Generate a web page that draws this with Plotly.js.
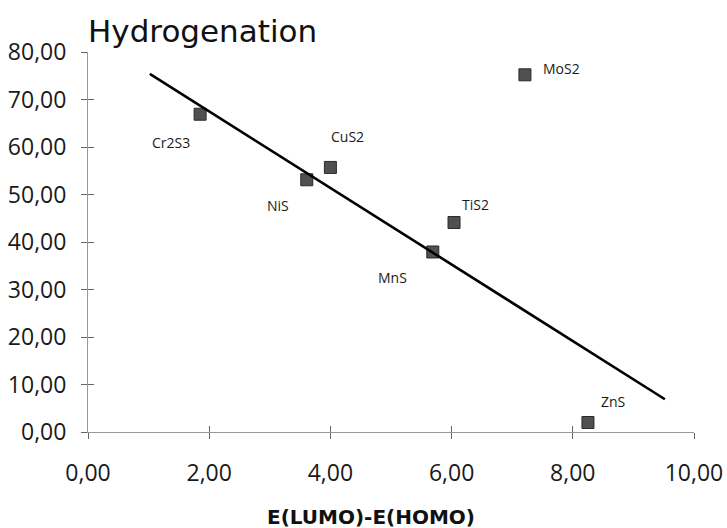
<!DOCTYPE html>
<html><head><meta charset="utf-8">
<script src="https://cdn.plot.ly/plotly-3.0.1.min.js"></script>
<style>html,body{margin:0;padding:0;background:#fff}#chart{width:727px;height:528px}</style>
</head><body><div id="chart"></div>
<script>
const compounds = ['Cr2S3', 'NiS', 'CuS2', 'MoS2', 'TiS2', 'MnS', 'ZnS'];
const gapValues = [1.85, 3.61, 4.00, 7.21, 6.04, 5.69, 8.25];
const hydrogenation = [66.9, 53.1, 55.7, 75.2, 44.1, 37.9, 2.0];
const trendX = [1.02, 9.52];
const trendY = [75.4, 6.9];
const xTicks = [0, 2, 4, 6, 8, 10];
const yTicks = [0, 10, 20, 30, 40, 50, 60, 70, 80];
// label offsets in pixels [xshift, yshift]
const labelOffsets = [[-29, -28], [-29, -26], [17, 31], [37, 6], [21, 18], [-40, -26], [25, 21]];

const tickFont = {family: 'Open Sans, sans-serif', size: 23, color: '#1a1a1a'};

const traces = [
  {
    x: trendX, y: trendY, xaxis: 'x2', yaxis: 'y2',
    mode: 'lines', type: 'scatter',
    line: {color: '#000', width: 2.6},
    hoverinfo: 'skip', showlegend: false
  },
  {
    x: gapValues, y: hydrogenation, text: compounds,
    mode: 'markers', type: 'scatter',
    marker: {symbol: 'square', size: 12, color: '#505050', line: {color: '#2a2a2a', width: 1}},
    showlegend: false, cliponaxis: false
  }
];

const annotations = compounds.map((c, i) => ({
  x: gapValues[i], y: hydrogenation[i], xref: 'x', yref: 'y',
  text: c, showarrow: false,
  xshift: labelOffsets[i][0], yshift: labelOffsets[i][1],
  font: {family: 'Open Sans, sans-serif', size: 14, color: '#1a1a1a'}
}));
annotations.push({
  text: 'E(LUMO)-E(HOMO)', xref: 'paper', yref: 'paper',
  x: (371 - 88) / 606, y: (432 - 517) / 380, xanchor: 'center', yanchor: 'middle',
  showarrow: false,
  font: {family: 'DejaVu Sans, sans-serif', size: 20, color: '#111', weight: 'bold'}
});

const baseX = {
  range: [0, 10], tickvals: xTicks, tickformat: '.2f',
  showgrid: false, zeroline: false, fixedrange: true
};
const baseY = {
  range: [0, 80], tickvals: yTicks, tickformat: '.2f',
  showgrid: false, zeroline: false, fixedrange: true
};

const layout = {
  width: 727, height: 528,
  margin: {l: 88, r: 33, t: 52, b: 96},
  paper_bgcolor: '#fff', plot_bgcolor: '#fff',
  separators: ',.',
  title: {
    text: 'Hydrogenation', xref: 'container', x: 88 / 727, xanchor: 'left',
    yref: 'container', y: 1 - 31 / 528, yanchor: 'middle',
    font: {family: 'DejaVu Sans, sans-serif', size: 31, color: '#111'}
  },
  xaxis: Object.assign({}, baseX, {
    ticks: 'outside', ticklen: 6, tickcolor: '#666', tickwidth: 1,
    showline: true, linecolor: '#999', linewidth: 1,
    tickfont: tickFont, ticklabelstandoff: 14
  }),
  yaxis: Object.assign({}, baseY, {
    ticks: 'outside', ticklen: 6, tickcolor: '#666', tickwidth: 1,
    showline: true, linecolor: '#999', linewidth: 1,
    tickfont: tickFont, ticklabelstandoff: 10
  }),
  xaxis2: Object.assign({}, baseX, {
    overlaying: 'x', anchor: 'y2', side: 'bottom',
    ticks: 'inside', ticklen: 6, tickcolor: '#666', tickwidth: 1,
    showticklabels: false, showline: false
  }),
  yaxis2: Object.assign({}, baseY, {
    overlaying: 'y', anchor: 'x2', side: 'left',
    ticks: 'inside', ticklen: 6, tickcolor: '#666', tickwidth: 1,
    showticklabels: false, showline: false
  }),
  annotations: annotations,
  showlegend: false
};

Plotly.newPlot('chart', traces, layout, {displayModeBar: false, staticPlot: true});
</script>
</body></html>
